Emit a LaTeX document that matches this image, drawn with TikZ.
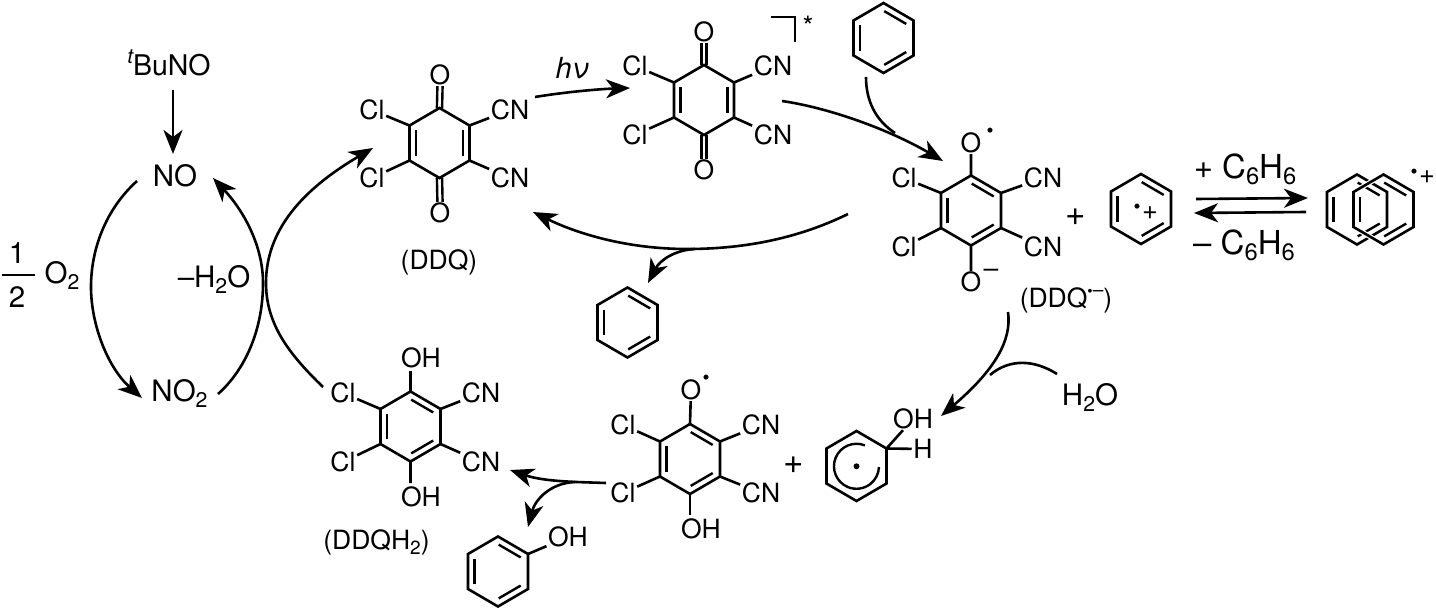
\documentclass[tikz,border=0pt]{standalone}
\usepackage{fontspec}
\setmainfont{TeX Gyre Heros}
\usetikzlibrary{arrows.meta,calc}
\newcommand\sbs[1]{\raisebox{-.2em}{\scalebox{.72}{#1}}}
\newcommand\sps[1]{\raisebox{.42em}{\scalebox{.72}{#1}}}
\newcommand\ringat[3]{%
  \coordinate (#1c) at (#2,#3);
  \coordinate (#11) at (#2,{#3-35});
  \coordinate (#12) at ({#2+30},{#3-17.5});
  \coordinate (#13) at ({#2+30},{#3+17.5});
  \coordinate (#14) at (#2,{#3+35});
  \coordinate (#15) at ({#2-30},{#3+17.5});
  \coordinate (#16) at ({#2-30},{#3-17.5});
  \draw[bond] (#11)--(#12)--(#13)--(#14)--(#15)--(#16)--cycle;}
\newcommand\inner[3]{\draw[bondthin] ($(#1c)!.78!($(#1#2)!.03!(#1#3)$)$) -- ($(#1c)!.78!($(#1#3)!.03!(#1#2)$)$);}
\newcommand\arom[1]{\inner{#1}{1}{2}\inner{#1}{3}{4}\inner{#1}{5}{6}}
\tikzset{
  bond/.style={line width=2.6pt,line join=miter},
  bondthin/.style={line width=2.4pt},
  arr/.style={line width=2.6pt,-{Stealth[length=24pt,width=19pt,inset=7pt]}},
  plain/.style={line width=2.6pt},
  lab/.style={font=\fontsize{26.5}{26.5}\selectfont,text height=19pt,text depth=0pt,inner sep=1.5pt},
  big/.style={font=\fontsize{29.5}{29.5}\selectfont,text height=21pt,text depth=0pt,inner sep=1.5pt},
  huge/.style={font=\fontsize{33}{33}\selectfont,text height=24pt,text depth=0pt,inner sep=1.5pt},
  plusb/.style={font=\fontsize{35}{35}\selectfont,text height=25pt,text depth=0pt,inner sep=0pt},
  pluss/.style={font=\fontsize{27}{27}\selectfont,text height=19pt,text depth=0pt,inner sep=0pt},
  rad/.style={font=\fontsize{20}{20}\selectfont,inner sep=0pt},
  cdot/.style={circle,fill=black,inner sep=0pt,minimum size=6pt},
}
\begin{document}
\begin{tikzpicture}[x=1pt,y=-1pt]
\useasboundingbox (0,0) rectangle (1436,610);
% ---------- left cycle
\node[big,font=\fontsize{28.5}{28.5}\selectfont] (tbuno) at (169,65) {\sps{\itshape t}BuNO};
\node[big] (no) at (175,176) {NO};
\node[big] (notwo) at (179.5,391) {NO\sbs{2}};
\node[big] (one) at (17,253) {1};
\node[big] (two) at (17,297) {2};
\node[big] (otwo) at (62,273) {O\sbs{2}};
\node[big] (mh2o) at (214,277) {–H\sbs{2}O};
\coordinate (barl) at (2,275); \coordinate (barr) at (35,275);
\draw[line width=2.6pt] (barl) -- (barr);
\coordinate (a1s) at (173,90); \coordinate (a1e) at (173,154);
\draw[arr] (a1s) -- (a1e);
\coordinate (a2s) at (137,181); \coordinate (a2e) at (142,398);
\draw[arr] (a2s) .. controls (105,210) and (91,250) .. (91,287) .. controls (91,325) and (108,368) .. (a2e);
\coordinate (a3s) at (218,394); \coordinate (a3e) at (213,178);
\draw[arr] (a3s) .. controls (245,370) and (263,330) .. (263,283) .. controls (263,245) and (243,210) .. (a3e);
\coordinate (a4s) at (323,387); \coordinate (a4e) at (373,148);
\draw[arr] (a4s) .. controls (290,355) and (266,325) .. (266,283) .. controls (266,225) and (310,185) .. (a4e);
% ---------- DDQ
\ringat{q}{439.5}{143}
\inner{q}{2}{3}\inner{q}{5}{6}
\node[lab] (qcl1) at (372,110) {Cl};
\node[lab] (qcl2) at (372,178) {Cl};
\node[lab] (qcn1) at (510,110) {CN};
\node[lab] (qcn2) at (510,178) {CN};
\node[lab] (qo1) at (440,75) {O};
\node[lab] (qo2) at (440,213) {O};
\node[lab] (qname) at (439,260) {(DDQ)};
\draw[bond] (q6)--(qcl1) (q5)--(qcl2) (q2)--(qcn1) (q3)--(qcn2);
\draw[bondthin] ([xshift=-2.6pt]q1)--([xshift=-2.6pt]qo1.south) ([xshift=2.6pt]q1)--([xshift=2.6pt]qo1.south);
\draw[bondthin] ([xshift=-2.6pt]q4)--([xshift=-2.6pt]qo2.north) ([xshift=2.6pt]q4)--([xshift=2.6pt]qo2.north);
% ---------- DDQ*
\ringat{e}{704}{100}
\inner{e}{2}{3}\inner{e}{5}{6}
\node[lab] (ecl1) at (635,66) {Cl};
\node[lab] (ecl2) at (635,135) {Cl};
\node[lab] (ecn1) at (773,66) {CN};
\node[lab] (ecn2) at (773,135) {CN};
\node[lab] (eo1) at (704,32) {O};
\node[lab] (eo2) at (704,170) {O};
\node[font=\fontsize{28}{28}\selectfont,inner sep=0pt] (star) at (808,26) {*};
\draw[bond] (e6)--(ecl1) (e5)--(ecl2) (e2)--(ecn1) (e3)--(ecn2);
\draw[bondthin] ([xshift=-2.6pt]e1)--([xshift=-2.6pt]eo1.south) ([xshift=2.6pt]e1)--([xshift=2.6pt]eo1.south);
\draw[bondthin] ([xshift=-2.6pt]e4)--([xshift=-2.6pt]eo2.north) ([xshift=2.6pt]e4)--([xshift=2.6pt]eo2.north);
\coordinate (bra) at (771,17); \coordinate (brb) at (795,17); \coordinate (brc) at (795,42);
\draw[plain] (bra)--(brb)--(brc);
\node[font=\fontsize{29}{29}\selectfont\itshape,inner sep=0pt] (hv) at (572,68) {hν};
\coordinate (a5s) at (535,97); \coordinate (a5e) at (630,88);
\draw[arr] (a5s) .. controls (565,92) and (600,89) .. (a5e);
% ---------- top benzene
\ringat{b}{883.5}{38}\arom{b}
\coordinate (a6s) at (782,101); \coordinate (a6e) at (943,161);
\draw[arr] (a6s) .. controls (830,108) and (890,130) .. (a6e);
\coordinate (a7s) at (866,77); \coordinate (a7e) at (895,133);
\draw[plain] (a7s) .. controls (866,100) and (875,120) .. (a7e);
% ---------- radical anion
\ringat{r}{971}{210.5}\arom{r}
\node[lab] (rcl1) at (904,178) {Cl};
\node[lab] (rcl2) at (904,247) {Cl};
\node[lab] (rcn1) at (1043,178) {CN};
\node[lab] (rcn2) at (1043,247) {CN};
\node[lab] (ro1) at (971,143) {O};
\node[lab] (ro2) at (971,282) {O};
\node[rad] (rdot) at (990,133) {•};
\node[lab] (rminus) at (991,268) {–};
\node[lab] (rname) at (1066,298) {(DDQ\sps{\scalebox{.8}{•}–})};
\draw[bond] (r6)--(rcl1) (r5)--(rcl2) (r2)--(rcn1) (r3)--(rcn2) (r1)--(ro1) (r4)--(ro2);
\node[plusb] (plus1) at (1076,213) {+};
% ---------- radical cation
\ringat{c}{1141}{209}\arom{c}
\node[rad] (cdot1) at (1137,209) {•};
\node[pluss] (cplus) at (1150,210) {+};
% ---------- equilibrium
\node[huge] (p6) at (1245,166) {+ C\sbs{6}H\sbs{6}};
\node[huge] (m6) at (1244,242) {– C\sbs{6}H\sbs{6}};
\coordinate (e1s) at (1196,199); \coordinate (e1e) at (1308,198);
\coordinate (e2s) at (1306,212); \coordinate (e2e) at (1194,213);
\draw[arr] (e1s)--(e1e);
\draw[arr] (e2s)--(e2e);
% ---------- dimer
\ringat{dl}{1357}{209.5}\arom{dl}
\coordinate (drt) at (1383.5,174.5); \coordinate (drl) at (1353.5,192); \coordinate (drm) at (1353.5,227); \coordinate (drb) at (1383.5,244.5);
\draw[white,line width=5pt] (drt)--(drl) (drm)--(drb);
\ringat{dr}{1383.5}{209.5}\arom{dr}
\node[rad] (ddot) at (1414,174) {•};
\node[pluss] (dplus) at (1427,174) {+};
% ---------- return arrow
\coordinate (a8s) at (848,214); \coordinate (a8e) at (533,212);
\draw[arr] (a8s) .. controls (795,240) and (740,249) .. (687,249) .. controls (630,249) and (580,235) .. (a8e);
\coordinate (a9s) at (695,249); \coordinate (a9e) at (648,283);
\draw[arr] (a9s) .. controls (675,250) and (660,260) .. (a9e);
\ringat{bb}{627.5}{322.5}\arom{bb}
% ---------- water
\coordinate (a10s) at (1008,312); \coordinate (a10e) at (941,416);
\draw[arr] (a10s) .. controls (1012,340) and (995,370) .. (a10e);
\node[big] (h2o) at (1090,395) {H\sbs{2}O};
\coordinate (a11s) at (1057,374); \coordinate (a11e) at (990,375);
\draw[plain] (a11s) .. controls (1035,360) and (1010,358) .. (a11e);
% ---------- hydroxycyclohexadienyl
\ringat{h}{856.5}{466}
\node[lab] (hoh) at (913,419) {OH};
\node[lab] (hh) at (923,449) {H};
\draw[bond] (h2)--(hoh) (h2)--(hh);
\node[cdot] (hdot) at (856.5,466.3) {};
\draw[bondthin] (hdot)++(8.4,-20.9) arc[start angle=-68,end angle=-358,radius=22.5];
\node[plusb] (plus2) at (793.5,461) {+};
% ---------- semiquinone
\ringat{s}{690}{459}\arom{s}
\node[lab] (scl1) at (623,425) {Cl};
\node[lab] (scl2) at (623,493) {Cl};
\node[lab] (scn1) at (761,425) {CN};
\node[lab] (scn2) at (761,493) {CN};
\node[lab] (so1) at (691,390) {O};
\node[lab] (soh) at (701,529) {OH};
\node[rad] (sdot) at (706,380) {•};
\draw[bond] (s6)--(scl1) (s5)--(scl2) (s2)--(scn1) (s3)--(scn2) (s1)--(so1);
\coordinate (sohb) at (690,515);
\draw[bond] (s4)--(sohb);
% ---------- DDQH2
\ringat{d}{410.5}{426.5}\arom{d}
\node[lab] (dcl1) at (343,393) {Cl};
\node[lab] (dcl2) at (343,462) {Cl};
\node[lab] (dcn1) at (481,393) {CN};
\node[lab] (dcn2) at (481,462) {CN};
\node[lab] (doh1) at (421,358) {OH};
\node[lab] (doh2) at (421,497) {OH};
\node[lab] (dname) at (376.5,540) {(DDQH\sbs{2})};
\coordinate (dob1) at (410.5,371); \coordinate (dob2) at (410.5,483);
\draw[bond] (d6)--(dcl1) (d5)--(dcl2) (d2)--(dcn1) (d3)--(dcn2) (d1)--(dob1) (d4)--(dob2);
\coordinate (a12s) at (606,483); \coordinate (a12e) at (510,470);
\draw[arr] (a12s) .. controls (580,482) and (545,482) .. (a12e);
\coordinate (a13s) at (575,482); \coordinate (a13e) at (528,527);
\draw[arr] (a13s) .. controls (550,483) and (535,500) .. (a13e);
% ---------- phenol
\ringat{f}{498}{571.5}\arom{f}
\node[lab] (foh) at (568,537) {OH};
\draw[bond] (f2)--(foh);
\end{tikzpicture}
\end{document}
